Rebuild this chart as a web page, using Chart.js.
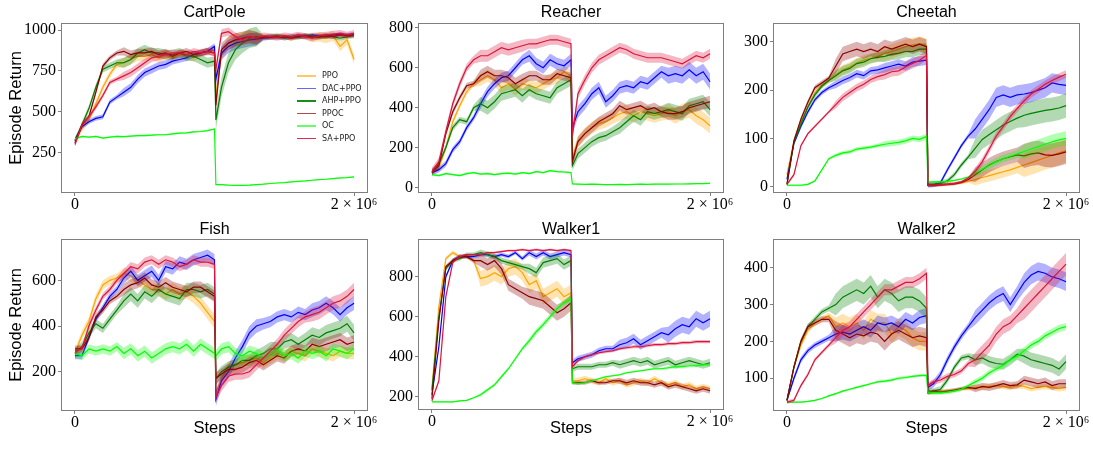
<!DOCTYPE html>
<html>
<head>
<meta charset="utf-8">
<script src="https://cdn.jsdelivr.net/npm/chart.js@4.4.1/dist/chart.umd.min.js"></script>
<style>
  body { margin: 0; background: #fff; }
  #wrap { position: relative; width: 1093px; height: 454px; background: #fff; overflow: hidden; }
  #wrap canvas { position: absolute; left: 0; top: 0; }
  .leg-line { position: absolute; height: 1.6px; }
  .leg-text { position: absolute; font: 8px "DejaVu Sans", sans-serif; color: #222; line-height: 10px; white-space: nowrap; }
</style>
</head>
<body>
<div id="wrap"></div>
<script>
// training steps: 0..1e6 every 50k, one point right after the task switch, then 1.05e6..2e6
const steps = [
  0, 50000, 100000, 150000, 200000, 250000, 300000, 350000, 400000, 450000, 500000,
  550000, 600000, 650000, 700000, 750000, 800000, 850000, 900000, 950000, 1000000,
  1010000,
  1050000, 1100000, 1150000, 1200000, 1250000, 1300000, 1350000, 1400000, 1450000, 1500000,
  1550000, 1600000, 1650000, 1700000, 1750000, 1800000, 1850000, 1900000, 1950000, 2000000
];

const methods = ['PPO', 'DAC+PPO', 'AHP+PPO', 'PPOC', 'OC', 'SA+PPO'];
const envNames = ['CartPole', 'Reacher', 'Cheetah', 'Fish', 'Walker1', 'Walker2'];

const xTicks = [0, 2000000];
const xTickLabels = ['0', '2 × 10⁶'];
const cartPoleTicks = [250, 500, 750, 1000];
const reacherTicks = [0, 200, 400, 600, 800];
const cheetahTicks = [0, 100, 200, 300];
const fishTicks = [200, 400, 600];
const walker1Ticks = [200, 400, 600, 800];
const walker2Ticks = [100, 200, 300, 400];

// CartPole
const cartPolePPO = [320,400,450,550,650,730,790,800,820,840,840,850,830,850,830,850,850,830,860,870,880, 600, 850,920,940,950,960,950,960,955,965,960,950,965,960,955,960,950,965,900,940,820];
const cartPoleDAC = [330,410,440,460,470,560,590,620,650,700,740,760,780,790,810,820,830,850,860,870,900, 700, 860,900,920,930,940,945,950,955,960,955,960,965,960,970,965,960,970,975,970,975];
const cartPoleAHP = [320,420,520,650,760,780,800,800,820,860,880,860,860,850,850,860,840,840,820,800,810, 450, 650,800,880,920,950,960,955,960,965,950,960,955,965,960,955,965,960,950,960,965];
const cartPolePPOC = [310,420,470,620,780,830,860,870,850,860,860,870,850,860,840,860,870,850,860,870,860, 540, 880,920,940,950,960,950,955,960,955,960,950,960,965,955,960,965,960,970,965,970];
const cartPoleOC = [335,350,345,350,340,345,350,348,352,355,355,358,360,360,365,370,372,378,380,385,395, 55, 55,52,50,50,52,55,58,62,65,68,72,75,78,82,86,88,92,96,98,102];
const cartPoleSA = [300,420,470,530,600,680,700,720,740,770,800,830,840,850,860,860,850,870,860,870,860, 760, 980,990,960,940,960,950,965,960,955,965,960,970,960,950,965,970,975,980,970,980];

// Reacher
const reacherPPO = [75,100,200,330,410,480,520,540,560,540,500,520,490,520,510,500,520,540,550,580,560, 150, 230,270,300,320,330,350,370,380,360,380,370,360,370,380,360,380,390,360,340,310];
const reacherDAC = [75,90,120,190,230,300,350,420,480,520,550,560,600,640,660,620,600,640,620,610,640, 300, 380,420,470,500,430,460,500,510,500,530,520,550,580,560,570,560,590,560,580,530];
const reacherAHP = [75,120,200,300,340,330,400,420,400,430,470,480,490,460,490,470,460,450,500,520,540, 110, 170,200,230,250,260,280,300,330,360,340,380,370,380,390,380,370,410,420,430,390];
const reacherPPOC = [80,110,270,380,450,510,520,560,580,560,560,550,520,540,560,560,540,540,570,560,550, 130, 230,270,300,330,350,370,410,390,400,410,390,400,380,370,370,380,400,410,420,430];
const reacherOC = [65,60,70,65,60,70,75,68,70,65,70,72,68,75,70,80,75,85,80,78,75, 18, 17,16,17,16,15,15,16,15,16,17,16,17,18,17,18,18,19,20,20,21];
const reacherSA = [80,130,280,420,520,600,640,660,660,680,700,690,700,710,720,720,730,740,740,730,720, 260, 470,540,600,640,660,680,700,690,670,660,650,650,650,640,630,620,640,660,650,670];

// Cheetah
const cheetahPPO = [25,95,135,165,195,210,220,232,242,248,256,262,266,270,276,280,285,290,294,296,292, 3, 3,4,5,6,8,11,15,19,23,27,31,35,40,45,50,55,60,65,70,75];
const cheetahDAC = [15,90,125,155,180,195,205,212,220,226,234,230,240,242,246,250,254,250,258,260,262, 3, 4,8,35,60,85,105,120,140,160,185,190,185,190,192,195,200,205,215,212,210];
const cheetahAHP = [5,92,130,165,190,208,220,230,240,245,255,258,265,268,270,274,276,280,280,285,285, 5, 5,7,12,25,45,62,80,98,108,118,128,135,142,148,152,155,158,160,163,168];
const cheetahPPOC = [5,95,140,175,205,215,225,250,275,280,285,280,285,280,290,285,290,295,290,295,290, 3, 3,4,5,6,9,15,25,35,45,52,58,62,66,64,68,70,66,65,68,72];
const cheetahOC = [3,3,3,5,12,35,58,65,70,72,78,80,82,85,88,90,92,95,100,98,104, 10, 10,10,11,13,16,20,28,36,44,52,58,63,68,73,78,83,88,93,97,100];
const cheetahSA = [5,25,85,110,125,140,155,170,185,195,205,212,222,228,232,238,240,248,255,262,272, 3, 3,4,5,7,10,18,32,52,78,105,125,145,162,178,192,202,212,220,227,233];

// Fish
const fishPPO = [280,360,420,520,580,600,610,630,620,600,580,560,560,540,560,540,550,530,500,460,420, 110, 170,220,230,240,250,260,240,260,280,270,290,280,270,300,290,280,270,290,280,280];
const fishDAC = [270,270,350,430,480,530,560,610,640,600,620,640,600,660,650,680,670,690,700,710,690, 80, 160,200,260,310,370,400,410,420,440,450,440,460,450,470,480,500,480,450,480,500];
const fishAHP = [280,310,370,410,390,430,470,510,540,510,550,530,560,540,530,520,560,560,550,560,540, 170, 200,220,230,250,250,270,280,300,300,330,340,320,340,360,350,370,380,390,410,370];
const fishPPOC = [300,300,350,440,470,510,530,560,580,590,610,580,570,590,570,560,550,570,570,550,530, 170, 190,210,210,220,240,250,230,250,270,260,290,300,290,320,310,320,330,340,320,330];
const fishOC = [280,270,300,290,300,290,310,280,300,270,290,260,280,300,310,300,320,290,320,300,280, 270, 300,310,280,270,290,280,260,280,300,270,280,260,290,280,290,270,300,290,280,300];
const fishSA = [290,300,400,470,530,560,600,630,660,650,680,690,670,690,680,660,670,690,680,680,670, 90, 140,180,190,190,200,230,260,290,320,360,390,420,440,450,460,480,500,510,530,560];

// Walker1
const walker1PPO = [240,650,890,920,900,900,880,790,800,820,800,840,850,820,760,780,700,720,740,700,720, 280, 280,290,280,270,290,270,280,260,270,280,270,290,270,260,270,250,260,240,250,240];
const walker1DAC = [210,450,800,880,900,900,900,910,910,900,910,900,920,890,920,900,920,900,910,920,910, 370, 390,400,410,430,440,440,460,470,490,460,480,500,520,510,540,560,550,590,570,590];
const walker1AHP = [230,600,840,880,890,910,910,920,910,900,880,870,860,850,840,820,870,880,890,860,880, 340, 350,350,350,360,360,370,360,370,380,370,380,360,370,380,360,370,380,370,360,370];
const walker1PPOC = [190,580,850,880,900,900,880,880,860,880,840,760,740,720,700,690,680,650,620,640,670, 270, 270,270,280,270,270,280,280,270,280,270,270,260,270,250,260,250,240,230,240,230];
const walker1OC = [175,175,175,175,180,182,195,210,235,260,300,340,390,440,480,525,560,600,640,670,690, 270, 265,270,280,290,300,305,310,320,325,330,335,340,340,345,350,350,355,355,360,360];
const walker1SA = [180,280,700,870,900,910,910,910,920,920,925,930,930,935,930,935,930,935,930,935,930, 350, 380,400,410,420,425,430,440,445,450,450,455,460,460,465,465,470,470,475,475,475];

// Walker2
const walker2PPO = [40,130,190,230,250,260,270,240,250,240,250,230,260,250,250,220,240,230,210,200,200, 60, 62,65,65,68,70,72,75,75,78,80,78,75,80,78,72,75,78,75,72,75];
const walker2DAC = [40,100,150,175,190,200,210,220,225,220,230,240,230,250,245,250,240,260,250,265,270, 75, 85,110,150,185,215,240,265,285,305,320,330,300,330,360,380,390,385,375,370,362];
const walker2AHP = [40,130,200,240,260,280,290,300,320,330,340,330,350,320,340,330,310,320,320,310,290, 65, 65,70,95,130,155,160,150,155,145,140,138,150,165,160,150,145,140,135,125,145];
const walker2PPOC = [40,130,200,240,250,260,260,230,220,210,220,215,225,220,200,220,230,220,210,215,210, 60, 65,62,65,68,72,75,72,78,75,80,85,80,82,95,90,85,90,80,85,85];
const walker2OC = [35,35,35,37,40,45,52,58,65,70,75,80,85,90,92,95,100,102,105,107,108, 60, 60,60,62,65,70,80,90,100,115,125,135,150,160,175,190,200,215,225,235,240];
const walker2SA = [35,40,80,110,150,170,190,210,230,240,260,280,300,320,340,340,350,360,360,370,385, 80, 90,95,105,110,120,140,150,170,190,220,240,250,270,290,310,330,350,370,390,410];

// half-width of the shaded band, one value per block of 7 points
const cartPoleSpread = [[20,30,25,40,15,30],[15,25,20,40,15,12],[20,30,30,60,15,15],[15,25,20,40,15,15],[5,5,5,3,3,3],[15,25,20,25,20,20]];
const reacherSpread = [[15,30,30,30,35,40],[15,25,30,30,30,40],[15,35,30,25,30,35],[15,30,25,25,25,30],[5,5,5,3,3,3],[20,30,25,25,25,25]];
const cheetahSpread = [[5,10,15,3,12,25],[5,8,10,5,20,20],[5,10,12,5,20,25],[5,15,15,3,15,25],[2,4,6,2,8,15],[3,8,10,3,8,8]];
const fishSpread = [[20,25,30,25,25,25],[15,25,25,30,25,30],[20,30,30,25,30,35],[15,25,25,25,25,30],[20,25,25,25,25,25],[15,20,20,25,25,30]];
const walker1Spread = [[10,40,40,15,15,15],[10,10,15,15,25,40],[10,15,25,15,20,20],[10,30,40,10,15,15],[3,8,15,5,5,8],[5,5,5,8,8,8]];
const walker2Spread = [[8,25,25,5,8,8],[8,20,20,10,20,25],[8,30,30,8,15,20],[8,25,25,5,10,12],[2,3,4,5,8,10],[5,15,15,8,20,30]];

const lineColors = ['rgb(255,165,0)', 'rgb(0,0,255)', 'rgb(0,128,0)', 'rgb(139,0,0)', 'rgb(0,255,0)', 'rgb(220,20,60)'];
const bandColors = ['rgba(255,165,0,0.3)', 'rgba(0,0,255,0.3)', 'rgba(0,128,0,0.3)', 'rgba(139,0,0,0.3)', 'rgba(0,255,0,0.3)', 'rgba(220,20,60,0.3)'];
const legendColors = ['rgba(255,165,0,0.6)', 'rgba(0,0,255,0.6)', 'rgba(0,128,0,0.9)', 'rgba(139,0,0,0.7)', 'rgba(0,255,0,0.6)', 'rgba(220,20,60,0.9)'];

const W = 1093, H = 454;
const frameColor = '#7f7f7f';
const serif = '"Liberation Serif", "DejaVu Serif", serif';
const sans = '"Liberation Sans", Arial, sans-serif';

// plot boxes (left, right, top, bottom) and y ranges for each panel
const panels = [
  { series: [cartPolePPO, cartPoleDAC, cartPoleAHP, cartPolePPOC, cartPoleOC, cartPoleSA], spread: cartPoleSpread, yTicks: cartPoleTicks,
    l: 61, r: 368, t: 23, b: 193, ymin: 4, ymax: 1043, titleY: 13, yTitle: true, xTitle: false, legend: true },
  { series: [reacherPPO, reacherDAC, reacherAHP, reacherPPOC, reacherOC, reacherSA], spread: reacherSpread, yTicks: reacherTicks,
    l: 418, r: 724, t: 23, b: 193, ymin: -27, ymax: 824, titleY: 13 },
  { series: [cheetahPPO, cheetahDAC, cheetahAHP, cheetahPPOC, cheetahOC, cheetahSA], spread: cheetahSpread, yTicks: cheetahTicks,
    l: 773, r: 1080, t: 23, b: 193, ymin: -13, ymax: 339, titleY: 13 },
  { series: [fishPPO, fishDAC, fishAHP, fishPPOC, fishOC, fishSA], spread: fishSpread, yTicks: fishTicks,
    l: 61, r: 368, t: 239, b: 411, ymin: 28, ymax: 781, titleY: 230, yTitle: true, xTitle: true },
  { series: [walker1PPO, walker1DAC, walker1AHP, walker1PPOC, walker1OC, walker1SA], spread: walker1Spread, yTicks: walker1Ticks,
    l: 418, r: 724, t: 239, b: 410, ymin: 134, ymax: 988, titleY: 230, xTitle: true },
  { series: [walker2PPO, walker2DAC, walker2AHP, walker2PPOC, walker2OC, walker2SA], spread: walker2Spread, yTicks: walker2Ticks,
    l: 773, r: 1080, t: 239, b: 411, ymin: 11, ymax: 478, titleY: 230, xTitle: true }
];

// matplotlib-style box around the plot area
const framePlugin = {
  id: 'frame',
  afterDatasetsDraw(chart) {
    const a = chart.chartArea;
    const ctx = chart.ctx;
    ctx.save();
    ctx.strokeStyle = frameColor;
    ctx.lineWidth = 1;
    ctx.strokeRect(Math.round(a.left) + 0.5, Math.round(a.top) + 0.5,
      Math.round(a.right - a.left) - 1, Math.round(a.bottom - a.top) - 1);
    ctx.restore();
  }
};

const wrap = document.getElementById('wrap');

panels.forEach((p, idx) => {
  const canvas = document.createElement('canvas');
  canvas.width = W;
  canvas.height = H;
  canvas.style.width = W + 'px';
  canvas.style.height = H + 'px';
  wrap.appendChild(canvas);

  const datasets = [];
  p.series.forEach((vals, k) => {
    const sp = p.spread[k];
    const z = 2 * (5 - k);
    datasets.push({
      data: steps.map((x, i) => ({ x, y: vals[i] - sp[Math.floor(i / 7)] })),
      borderWidth: 0, pointRadius: 0, fill: false, order: z + 1
    });
    datasets.push({
      data: steps.map((x, i) => ({ x, y: vals[i] + sp[Math.floor(i / 7)] })),
      borderWidth: 0, pointRadius: 0, fill: '-1', backgroundColor: bandColors[k], order: z + 1
    });
    datasets.push({
      label: methods[k],
      data: steps.map((x, i) => ({ x, y: vals[i] })),
      borderColor: lineColors[k], borderWidth: 1.2, pointRadius: 0, fill: false, order: z
    });
  });

  const titleTop = p.titleY - 8;
  new Chart(canvas, {
    type: 'line',
    data: { datasets },
    plugins: [framePlugin],
    options: {
      responsive: false,
      animation: false,
      events: [],
      layout: { autoPadding: false, padding: { left: 0, right: W - p.r, top: 0, bottom: 0 } },
      plugins: {
        legend: { display: false },
        tooltip: { enabled: false },
        title: {
          display: true, text: envNames[idx], fullSize: false, color: '#000',
          font: { family: sans, size: 16, weight: 'normal', lineHeight: 1 },
          padding: { top: titleTop, bottom: p.t - p.titleY - 8 }
        }
      },
      scales: {
        x: {
          type: 'linear', min: -100000, max: 2100000,
          afterBuildTicks: s => { s.ticks = xTicks.map(v => ({ value: v })); },
          afterFit: s => { s.height = H - p.b; },
          ticks: {
            callback: (v, i) => xTickLabels[i],
            color: '#000', font: { family: serif, size: 16, lineHeight: 1 },
            maxRotation: 0, autoSkip: false, padding: 1
          },
          grid: { drawOnChartArea: false, drawTicks: true, tickLength: 3, color: frameColor },
          border: { display: false },
          title: {
            display: !!p.xTitle, text: 'Steps', color: '#000',
            font: { family: sans, size: 16.5 }, padding: { top: 0, bottom: 16 }
          }
        },
        y: {
          type: 'linear', min: p.ymin, max: p.ymax,
          afterBuildTicks: s => { s.ticks = p.yTicks.map(v => ({ value: v })); },
          afterFit: s => { s.width = p.l; },
          ticks: { callback: v => String(v), color: '#000', font: { family: serif, size: 16 }, padding: 2 },
          grid: { drawOnChartArea: false, drawTicks: true, tickLength: 3, color: frameColor },
          border: { display: false },
          title: {
            display: !!p.yTitle, text: 'Episode Return', color: '#000',
            font: { family: sans, size: 16.5 }, padding: { top: 7, bottom: 0 }
          }
        }
      }
    }
  });

  if (p.legend) {
    const legendY = [76, 88.5, 101, 113.5, 126, 138.5];
    methods.forEach((m, k) => {
      const ln = document.createElement('div');
      ln.className = 'leg-line';
      ln.style.left = '297px';
      ln.style.width = '19px';
      ln.style.top = (legendY[k] - 0.8) + 'px';
      ln.style.background = legendColors[k];
      wrap.appendChild(ln);
      const tx = document.createElement('div');
      tx.className = 'leg-text';
      tx.style.left = '322px';
      tx.style.top = (legendY[k] - 5) + 'px';
      tx.textContent = m;
      wrap.appendChild(tx);
    });
  }
});
</script>
</body>
</html>
